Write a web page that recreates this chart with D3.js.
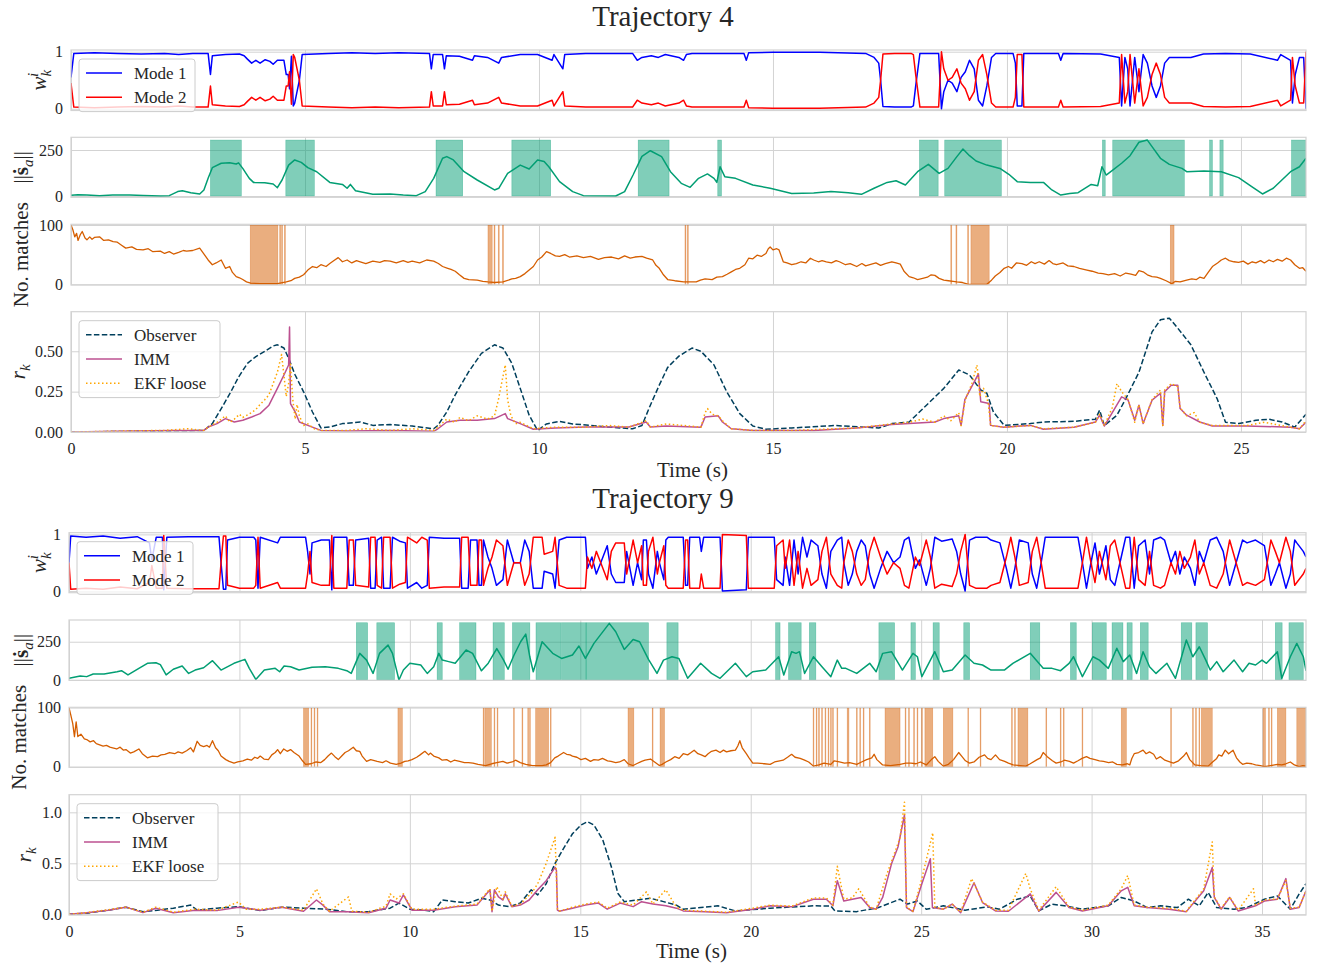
<!DOCTYPE html>
<html>
<head>
<meta charset="utf-8">
<script src="https://cdn.jsdelivr.net/npm/d3@7"></script>
<style>
  body { margin: 0; background: #fff; }
  text { font-family: "Liberation Serif", "DejaVu Serif", serif; fill: #262626; }
</style>
</head>
<body>
<svg id="fig" width="1318" height="971"></svg>
<script>
// ---------- data: [time (s), value] ----------

// Trajectory 4: mode weights [t, mode 1, mode 2]
var modes4 = [[0,.55,.45],[.06,.97,.03],[.5,.98,.02],[1,.97,.03],[1.5,.96,.04],[2,.97,.03],[2.3,.95,.05],[2.6,.97,.03],[2.93,.97,.03],[2.98,.6,.4],[3.02,.93,.07],[3.3,.95,.05],[3.6,.96,.04],[3.7,.93,.07],[3.77,.87,.13],[3.86,.8,.2],[3.95,.85,.15],[4.04,.8,.2],[4.15,.86,.14],[4.25,.83,.17],[4.32,.78,.22],[4.41,.85,.15],[4.55,.85,.15],[4.6,.6,.4],[4.64,.6,.4],[4.67,.35,.65],[4.71,.92,.08],[4.75,.05,.95],[4.78,.1,.9],[4.83,.3,.7],[4.88,.5,.5],[4.94,.95,.05],[5.5,.97,.03],[6,.98,.02],[6.5,.97,.03],[7,.98,.02],[7.66,.97,.03],[7.7,.7,.3],[7.74,.95,.05],[7.94,.95,.05],[7.98,.7,.3],[8.02,.93,.07],[8.3,.92,.08],[8.58,.85,.15],[8.62,.93,.07],[8.9,.9,.1],[9.14,.8,.2],[9.2,.9,.1],[9.6,.95,.05],[9.97,.95,.05],[10.28,.85,.15],[10.32,.95,.05],[10.51,.7,.3],[10.55,.95,.05],[11,.97,.03],[11.5,.97,.03],[12,.97,.03],[12.1,.85,.15],[12.2,.9,.1],[12.4,.93,.07],[12.55,.9,.1],[12.7,.95,.05],[12.99,.9,.1],[13.09,.85,.15],[13.15,.95,.05],[13.27,.97,.03],[14,.97,.03],[14.38,.97,.03],[14.43,.85,.15],[14.48,.98,.02],[15,.99,.01],[16,.99,.01],[16.98,.97,.03],[17.16,.9,.1],[17.26,.8,.2],[17.3,.5,.5],[17.35,.04,.96],[17.6,.03,.97],[17.95,.03,.97],[18,.05,.95],[18.05,.4,.6],[18.14,.97,.03],[18.54,.97,.03],[18.6,0,1],[18.65,.3,.7],[18.74,.5,.5],[18.83,.45,.55],[18.93,.3,.7],[19.02,.55,.45],[19.11,.65,.35],[19.2,.85,.15],[19.3,.7,.3],[19.39,.15,.85],[19.48,.05,.95],[19.57,.4,.6],[19.67,.9,.1],[19.76,.97,.03],[20.13,.97,.03],[20.18,.8,.2],[20.22,.05,.95],[20.32,.05,.95],[20.36,.97,.03],[21.1,.97,.03],[21.15,.85,.15],[21.2,.97,.03],[22,.96,.04],[22.4,.9,.1],[22.45,.05,.95],[22.52,.9,.1],[22.58,.7,.3],[22.63,.05,.95],[22.73,.9,.1],[22.82,.3,.7],[22.91,.95,.05],[23,.8,.2],[23.1,.4,.6],[23.19,.2,.8],[23.28,.4,.6],[23.37,.8,.2],[23.47,.9,.1],[23.93,.9,.1],[24.2,.96,.04],[24.67,.97,.03],[25.2,.96,.04],[25.78,.85,.15],[25.85,.95,.05],[26.06,.85,.15],[26.1,.1,.9],[26.16,.6,.4],[26.25,.9,.1],[26.34,.9,.1],[26.39,0,1]];

var sa4 = [[0,4],[0.15,7],[0.34,6],[0.61,1],[0.89,5],[1.26,5],[1.54,3],[1.91,0],[2.1,2],[2.28,24],[2.38,29],[2.56,18],[2.75,11],[2.84,33],[2.93,96],[3.02,154],[3.21,178],[3.39,181],[3.53,174],[3.58,180],[3.67,150],[3.81,96],[3.9,74],[4.14,72],[4.32,65],[4.41,45],[4.51,87],[4.65,168],[4.78,196],[4.92,183],[5.06,154],[5.25,132],[5.53,74],[5.8,63],[5.9,42],[5.97,63],[6.08,29],[6.45,9],[6.82,11],[7.1,5],[7.38,2],[7.57,24],[7.75,96],[7.94,205],[8.03,214],[8.17,196],[8.4,132],[8.68,87],[9.05,33],[9.14,42],[9.33,123],[9.6,168],[9.79,147],[9.97,196],[10.11,187],[10.21,159],[10.44,78],[10.72,24],[10.95,2],[11.64,0],[11.83,24],[12.01,114],[12.2,215],[12.38,246],[12.62,214],[12.81,132],[13.04,69],[13.23,47],[13.41,96],[13.6,120],[13.74,96],[13.8,74],[13.87,159],[13.97,105],[14.2,96],[14.57,60],[14.94,42],[15.4,14],[15.87,16],[16.24,24],[16.61,18],[16.89,9],[17.16,42],[17.44,74],[17.63,83],[17.83,60],[18.09,132],[18.32,172],[18.55,123],[18.74,150],[18.93,214],[19.06,255],[19.2,219],[19.34,190],[19.57,168],[19.85,150],[20.04,118],[20.22,78],[20.5,74],[20.78,74],[20.96,33],[21.15,5],[21.34,14],[21.52,18],[21.8,63],[21.94,56],[22.03,159],[22.12,114],[22.26,141],[22.45,178],[22.63,219],[22.82,292],[23.0,304],[23.1,268],[23.28,205],[23.47,172],[23.74,150],[23.84,132],[24.21,136],[24.58,132],[24.95,100],[25.23,51],[25.46,11],[25.69,42],[26.06,132],[26.25,159],[26.39,205]];
var saSpans4 = [[2.98,3.64],[4.59,5.2],[7.8,8.37],[9.42,10.25],[12.12,12.78],[13.82,13.9],[18.13,18.53],[18.67,19.88],[22.04,22.1],[22.26,23.79],[24.33,24.39],[24.55,24.62],[26.08,26.39]];
var saSpanTop4 = 304;

var matches4 = [[0,100],[0.04,92],[0.08,80],[0.12,86],[0.15,74],[0.2,84],[0.24,89],[0.3,78],[0.34,75],[0.4,80],[0.45,76],[0.5,79],[0.61,80],[0.7,74],[0.8,75],[0.9,72],[0.99,71],[1.08,66],[1.17,61],[1.3,63],[1.4,59],[1.54,58],[1.65,60],[1.75,55],[1.91,56],[2.0,52],[2.1,55],[2.19,51],[2.3,54],[2.4,57],[2.47,56],[2.6,57],[2.75,61],[2.85,50],[2.93,41],[3.02,33],[3.1,36],[3.21,41],[3.3,27],[3.39,30],[3.45,20],[3.53,13],[3.6,11],[3.67,8],[3.75,4],[3.84,2],[4.04,1],[4.41,1],[4.6,4],[4.7,6],[4.78,10],[4.88,12],[4.97,16],[5.06,24],[5.16,30],[5.25,28],[5.34,33],[5.45,30],[5.53,35],[5.62,40],[5.71,45],[5.8,38],[5.9,41],[6.0,36],[6.1,40],[6.18,38],[6.3,35],[6.45,39],[6.6,37],[6.7,40],[6.82,39],[6.95,36],[7.1,40],[7.2,37],[7.29,39],[7.45,36],[7.6,41],[7.75,39],[7.85,35],[7.94,30],[8.05,27],[8.12,25],[8.21,22],[8.3,16],[8.4,10],[8.5,8],[8.68,7],[8.8,5],[8.91,4],[9.05,3],[9.23,4],[9.42,9],[9.5,10],[9.6,13],[9.7,18],[9.79,24],[9.88,30],[9.97,41],[10.06,46],[10.16,55],[10.25,52],[10.35,48],[10.44,47],[10.55,50],[10.65,46],[10.81,48],[10.95,45],[11.1,47],[11.27,42],[11.4,45],[11.55,46],[11.7,43],[11.83,48],[11.95,44],[12.05,46],[12.2,47],[12.3,44],[12.43,41],[12.5,32],[12.57,27],[12.65,17],[12.75,8],[12.9,6],[13.09,4],[13.36,4],[13.45,7],[13.55,9],[13.7,8],[13.8,12],[13.92,13],[14.02,17],[14.11,21],[14.2,25],[14.29,27],[14.4,33],[14.48,44],[14.57,43],[14.66,49],[14.75,47],[14.85,52],[14.9,60],[14.94,63],[15.0,58],[15.08,60],[15.13,58],[15.22,38],[15.3,36],[15.4,33],[15.5,35],[15.6,38],[15.7,36],[15.8,44],[15.87,41],[15.97,38],[16.05,40],[16.14,38],[16.25,36],[16.35,40],[16.42,38],[16.55,33],[16.65,35],[16.79,30],[16.9,35],[16.98,31],[17.07,33],[17.2,36],[17.3,32],[17.4,35],[17.54,38],[17.63,36],[17.72,34],[17.8,22],[17.91,13],[18.0,11],[18.09,8],[18.2,10],[18.3,12],[18.38,16],[18.46,15],[18.55,10],[18.65,7],[18.75,6],[18.85,5],[18.93,4],[19.05,3],[19.18,0],[19.57,0],[19.67,7],[19.75,14],[19.85,20],[19.94,27],[20.03,30],[20.1,27],[20.2,36],[20.32,35],[20.42,32],[20.52,38],[20.6,35],[20.69,38],[20.8,34],[20.9,40],[20.98,35],[21.06,33],[21.2,36],[21.3,31],[21.43,30],[21.55,27],[21.71,24],[21.82,22],[21.95,19],[22.05,18],[22.17,16],[22.3,18],[22.42,14],[22.54,19],[22.65,17],[22.75,15],[22.82,23],[22.91,21],[23.0,16],[23.1,13],[23.2,12],[23.28,10],[23.4,6],[23.52,1],[23.6,5],[23.7,4],[23.84,7],[23.95,9],[24.05,8],[24.12,12],[24.21,10],[24.3,20],[24.39,30],[24.5,36],[24.58,41],[24.67,44],[24.75,40],[24.85,38],[24.95,37],[25.05,39],[25.15,34],[25.24,38],[25.32,36],[25.42,40],[25.5,36],[25.6,41],[25.69,38],[25.78,42],[25.88,39],[25.97,44],[26.06,41],[26.15,33],[26.25,27],[26.32,28],[26.39,22]];
var matchSpans4 = [[3.83,4.42],[4.46,4.48],[4.5,4.52],[4.56,4.58],[8.91,9.0],[9.04,9.06],[9.13,9.15],[9.22,9.24],[13.12,13.14],[13.17,13.19],[18.8,18.82],[18.91,18.93],[19.16,19.18],[19.23,19.62],[23.49,23.57]];
var matchSpanTop4 = 100;

var observer4 = [[0,0],[1.26,.004],[2.5,.008],[2.84,.01],[3.02,.052],[3.21,.145],[3.4,.24],[3.58,.34],[3.77,.425],[3.95,.467],[4.14,.5],[4.32,.533],[4.41,.54],[4.55,.52],[4.65,.456],[4.79,.353],[4.97,.249],[5.16,.124],[5.34,.025],[5.53,.031],[5.8,.052],[6.18,.062],[6.45,.041],[6.82,.046],[7.29,.037],[7.75,.02],[7.84,.041],[8.03,.124],[8.21,.23],[8.49,.37],[8.77,.487],[9.05,.54],[9.23,.52],[9.42,.425],[9.6,.27],[9.79,.104],[9.97,.01],[10.16,.05],[10.44,.066],[10.72,.05],[11.09,.041],[11.46,.031],[12.0,.02],[12.2,.04],[12.38,.166],[12.57,.29],[12.75,.4],[12.99,.47],[13.27,.52],[13.46,.5],[13.74,.415],[14.01,.25],[14.29,.114],[14.57,.037],[14.85,.017],[15.4,.025],[16.33,.04],[17.26,.025],[17.54,.052],[17.91,.062],[18.28,.166],[18.65,.27],[18.97,.384],[19.2,.353],[19.44,.26],[19.57,.24],[19.71,.124],[19.94,.041],[20.5,.052],[20.78,.062],[21.43,.066],[21.89,.079],[21.98,.135],[22.08,.04],[22.35,.104],[22.54,.207],[22.82,.37],[23.1,.62],[23.28,.695],[23.47,.705],[23.65,.643],[23.93,.54],[24.21,.37],[24.49,.207],[24.67,.06],[24.95,.052],[25.32,.073],[25.6,.079],[25.88,.062],[26.15,.03],[26.39,.11]];
var imm4 = [[0,0],[1,.004],[2.19,.01],[2.84,.01],[2.93,.03],[3.12,.052],[3.3,.083],[3.49,.062],[3.67,.073],[3.86,.093],[4.04,.114],[4.23,.166],[4.41,.27],[4.55,.353],[4.65,.415],[4.67,.65],[4.69,.176],[4.79,.124],[4.88,.062],[5.06,.041],[5.34,.01],[5.9,.006],[6.82,.01],[7.75,.004],[7.84,.02],[8.03,.062],[8.31,.073],[8.68,.073],[9.05,.083],[9.28,.114],[9.33,.083],[9.6,.052],[9.88,.017],[10.35,.025],[11.0,.031],[11.92,.031],[12.29,.062],[12.38,.031],[12.72,.037],[13.46,.03],[13.55,.093],[13.83,.1],[13.92,.062],[14.11,.02],[14.57,.01],[15.87,.01],[16.79,.025],[17.54,.046],[17.91,.052],[18.46,.062],[18.65,.083],[18.97,.1],[19.02,.041],[19.1,.2],[19.39,.36],[19.44,.187],[19.62,.176],[19.65,.041],[19.94,.03],[20.5,.041],[20.78,.017],[21.43,.03],[21.89,.062],[21.98,.104],[22.08,.037],[22.45,.218],[22.59,.197],[22.73,.073],[22.82,.166],[22.91,.052],[23.1,.197],[23.28,.24],[23.33,.04],[23.37,.25],[23.51,.29],[23.65,.29],[23.7,.145],[23.84,.104],[24.12,.062],[24.39,.037],[25.13,.037],[26.06,.03],[26.25,.02],[26.39,.06]];
var ekf4 = [[0,0],[1,.005],[2,.01],[2.5,.02],[2.84,.01],[2.93,.03],[3.12,.06],[3.3,.1],[3.4,.06],[3.49,.08],[3.6,.11],[3.67,.09],[3.86,.12],[3.95,.14],[4.04,.17],[4.14,.2],[4.23,.23],[4.32,.3],[4.41,.37],[4.5,.48],[4.55,.35],[4.6,.22],[4.65,.3],[4.69,.42],[4.74,.2],[4.79,.08],[4.83,.17],[4.88,.1],[4.97,.04],[5.06,.05],[5.2,.02],[5.34,.01],[5.9,.01],[6.3,.02],[6.82,.01],[7.3,.02],[7.75,.01],[7.84,.03],[8.03,.08],[8.2,.06],[8.31,.09],[8.5,.07],[8.68,.1],[8.9,.08],[9.05,.1],[9.14,.21],[9.2,.3],[9.28,.415],[9.33,.2],[9.4,.1],[9.5,.05],[9.6,.06],[9.88,.02],[10.35,.03],[11,.03],[11.5,.04],[11.92,.03],[12.29,.07],[12.38,.03],[12.72,.05],[13.1,.04],[13.46,.03],[13.55,.12],[13.6,.145],[13.7,.11],[13.83,.1],[13.92,.07],[14.11,.02],[14.57,.01],[15.5,.01],[16.3,.02],[16.79,.025],[17.54,.05],[17.91,.06],[18.2,.08],[18.46,.06],[18.65,.1],[18.8,.07],[18.97,.12],[19.02,.04],[19.11,.2],[19.25,.3],[19.36,.415],[19.42,.22],[19.5,.27],[19.6,.18],[19.65,.04],[19.94,.03],[20.5,.04],[20.78,.02],[21.43,.03],[21.89,.06],[21.98,.11],[22.08,.04],[22.25,.15],[22.35,.3],[22.45,.25],[22.59,.2],[22.73,.06],[22.82,.17],[22.91,.05],[23.1,.2],[23.28,.26],[23.33,.04],[23.37,.26],[23.51,.3],[23.65,.28],[23.7,.15],[23.84,.1],[24.0,.12],[24.12,.06],[24.39,.04],[25.13,.04],[25.5,.06],[26.06,.03],[26.25,.02],[26.39,.07]];

// Trajectory 9
var modes9 = [[0,.5,.5],[0.05,.97,.03],[0.5,.95,.05],[1.0,.97,.03],[1.5,.93,.07],[2.0,.96,.04],[2.36,.85,.15],[2.43,.55,.45],[2.56,.95,.05],[2.74,.95,.05],[2.78,.02,.98],[2.87,.95,.05],[3.5,.96,.04],[4.4,.96,.04],[4.46,.5,.5],[4.53,.03,.97],[4.6,.03,.97],[4.65,.9,.1],[5.0,.95,.05],[5.42,.95,.05],[5.48,.9,.1],[5.545,.05,.95],[5.61,.95,.05],[6.12,.85,.15],[6.2,.95,.05],[6.94,.95,.05],[7.0,.7,.3],[7.07,.3,.7],[7.13,.85,.15],[7.4,.9,.1],[7.64,.9,.1],[7.71,.02,.98],[7.77,.95,.05],[8.15,.95,.05],[8.22,.1,.9],[8.34,.1,.9],[8.41,.9,.1],[8.79,.93,.07],[8.85,.05,.95],[8.98,.05,.95],[9.04,.9,.1],[9.17,.95,.05],[9.23,.05,.95],[9.42,.05,.95],[9.49,.95,.05],[9.7,.88,.12],[9.87,.85,.15],[9.93,.05,.95],[10.2,.15,.85],[10.35,.05,.95],[10.51,.1,.9],[10.57,.95,.05],[11.0,.93,.07],[11.46,.93,.07],[11.52,.05,.95],[11.71,.05,.95],[11.78,.9,.1],[11.97,.9,.1],[12.03,.1,.9],[12.1,.1,.9],[12.16,.9,.1],[12.29,.6,.4],[12.41,.4,.6],[12.54,.1,.9],[12.73,.2,.8],[12.86,.9,.1],[13.05,.5,.5],[13.24,.5,.5],[13.37,.9,.1],[13.5,.7,.3],[13.62,.05,.95],[13.88,.05,.95],[13.94,.35,.65],[14.19,.3,.7],[14.26,.05,.95],[14.38,.9,.1],[14.6,.95,.05],[15.15,.95,.05],[15.21,.4,.6],[15.34,.6,.4],[15.47,.3,.7],[15.6,.5,.5],[15.79,.8,.2],[15.91,.3,.7],[16.04,.15,.85],[16.29,.15,.85],[16.36,.7,.3],[16.55,.1,.9],[16.68,.5,.5],[16.8,.2,.8],[16.85,.9,.1],[16.94,.9,.1],[17.0,.3,.7],[17.13,.05,.95],[17.26,.7,.3],[17.32,.5,.5],[17.45,.2,.8],[17.51,.9,.1],[17.58,.95,.05],[18.02,.95,.05],[18.09,.1,.9],[18.15,.1,.9],[18.21,.95,.05],[18.5,.95,.05],[18.55,.7,.3],[18.62,.95,.05],[19.1,.95,.05],[19.17,0,1],[19.87,.02,.98],[19.93,.95,.05],[20.69,.95,.05],[20.76,.2,.8],[20.95,.1,.9],[21.01,.6,.4],[21.14,.1,.9],[21.27,.9,.1],[21.39,.3,.7],[21.52,.95,.05],[21.65,.6,.4],[21.77,.9,.1],[21.97,.8,.2],[22.09,.3,.7],[22.22,.05,.95],[22.35,.7,.3],[22.54,.9,.1],[22.67,.95,.05],[22.73,.5,.5],[22.86,.1,.9],[22.98,.3,.7],[23.11,.7,.3],[23.24,.9,.1],[23.36,.8,.2],[23.49,.3,.7],[23.62,.05,.95],[23.81,.4,.6],[24.0,.7,.3],[24.19,.5,.5],[24.38,.6,.4],[24.51,.9,.1],[24.64,.95,.05],[24.83,.4,.6],[24.95,.55,.45],[25.15,.1,.9],[25.27,.4,.6],[25.4,.95,.05],[25.6,.88,.12],[25.91,.92,.08],[26.04,.7,.3],[26.16,.3,.7],[26.29,0,1],[26.42,.9,.1],[26.6,.95,.05],[26.93,.95,.05],[27.05,.9,.1],[27.31,.85,.15],[27.5,.4,.6],[27.63,.05,.95],[27.75,.4,.6],[27.88,.9,.1],[28.14,.85,.15],[28.26,.3,.7],[28.39,.05,.95],[28.52,.5,.5],[28.64,.95,.05],[29.6,.95,.05],[29.73,.5,.5],[29.85,.05,.95],[29.98,.5,.5],[30.1,.85,.15],[30.23,.3,.7],[30.42,.8,.2],[30.55,.2,.8],[30.68,.1,.9],[30.87,.6,.4],[31.0,.95,.05],[31.12,.95,.05],[31.25,.05,.95],[31.38,.8,.2],[31.57,.9,.1],[31.7,.3,.7],[31.82,.9,.1],[32.02,.95,.05],[32.14,.9,.1],[32.33,.5,.5],[32.46,.7,.3],[32.59,.3,.7],[32.72,.6,.4],[32.9,.4,.6],[33.03,.1,.9],[33.16,.7,.3],[33.29,.5,.5],[33.48,.9,.1],[33.67,.95,.05],[33.86,.7,.3],[34.05,.1,.9],[34.24,.5,.5],[34.43,.9,.1],[34.56,.85,.15],[34.81,.9,.1],[35.07,.8,.2],[35.26,.1,.9],[35.39,.3,.7],[35.51,.5,.5],[35.7,.05,.95],[35.83,.3,.7],[35.96,.9,.1],[36.02,.85,.15],[36.21,.7,.3],[36.29,.6,.4]];

var sa9 = [[0,11],[0.33,26],[0.52,22],[0.71,39],[1.03,39],[1.41,54],[1.54,61],[1.73,33],[2.05,76],[2.3,109],[2.55,113],[2.68,100],[2.85,33],[3.06,70],[3.32,91],[3.51,43],[3.7,65],[3.95,80],[4.21,126],[4.46,65],[4.84,109],[5.16,135],[5.29,76],[5.48,4],[5.73,65],[6.05,76],[6.18,54],[6.31,91],[6.5,87],[6.75,65],[7.13,83],[7.52,87],[7.9,76],[8.15,61],[8.28,43],[8.53,174],[8.73,130],[8.92,43],[9.11,174],[9.36,228],[9.49,174],[9.68,0],[9.81,65],[10.0,109],[10.32,98],[10.51,43],[10.7,87],[10.85,174],[10.95,130],[11.14,120],[11.33,109],[11.65,196],[11.84,174],[12.1,60],[12.3,110],[12.55,205],[12.75,130],[12.88,70],[13.05,160],[13.25,250],[13.4,300],[13.52,150],[13.62,54],[13.88,250],[14.19,174],[14.45,141],[14.77,163],[14.96,222],[15.15,141],[15.4,239],[15.85,370],[16.04,315],[16.29,200],[16.55,265],[16.74,250],[17.0,135],[17.25,43],[17.44,130],[17.69,152],[17.89,141],[18.15,11],[18.53,109],[18.85,43],[19.1,11],[19.55,109],[19.87,22],[20.06,54],[20.44,65],[20.82,152],[20.97,33],[21.2,185],[21.33,174],[21.43,185],[21.58,43],[21.84,152],[22.09,87],[22.35,22],[22.54,130],[22.67,76],[22.79,76],[23.11,43],[23.49,109],[23.68,54],[23.87,174],[24.13,185],[24.45,65],[24.76,174],[24.89,152],[25.02,22],[25.4,185],[25.65,54],[25.91,65],[26.29,163],[26.55,109],[26.8,98],[27.05,65],[27.44,65],[27.69,109],[28.2,174],[28.58,76],[28.84,76],[29.09,61],[29.34,109],[29.47,152],[29.73,22],[30.04,152],[30.23,130],[30.49,76],[30.74,207],[30.93,120],[31.12,163],[31.32,43],[31.51,185],[31.7,87],[31.89,43],[32.21,109],[32.46,11],[32.78,261],[32.97,152],[33.16,217],[33.35,130],[33.48,65],[33.67,120],[33.86,54],[34.18,130],[34.43,54],[34.62,109],[34.81,98],[35.0,130],[35.13,109],[35.45,185],[35.58,11],[35.83,152],[36.02,239],[36.21,152],[36.29,60]];
var saSpans9 = [[8.43,8.76],[9.03,9.55],[10.8,10.95],[11.46,11.94],[12.44,12.77],[13.01,13.52],[13.7,14.43],[14.45,15.17],[15.17,17.0],[17.54,17.87],[20.73,20.86],[21.11,21.48],[21.72,21.91],[23.76,24.22],[24.7,24.83],[25.35,25.53],[26.25,26.42],[28.2,28.48],[29.38,29.55],[30.02,30.43],[30.6,30.92],[31.04,31.19],[31.43,31.66],[32.63,32.94],[33.06,33.4],[35.39,35.59],[35.79,36.21]];
var saSpanTop9 = 374;

var matches9 = [[0,100],[0.05,88],[0.11,73],[0.16,51],[0.21,76],[0.26,51],[0.35,55],[0.45,47],[0.52,46],[0.62,42],[0.72,44],[0.8,39],[0.9,37],[1.0,35],[1.1,36],[1.2,33],[1.28,32],[1.4,30],[1.5,33],[1.6,28],[1.67,29],[1.8,23],[1.9,25],[2.05,30],[2.15,22],[2.3,15],[2.45,18],[2.6,17],[2.7,20],[2.81,21],[2.95,24],[3.1,22],[3.2,25],[3.32,23],[3.45,27],[3.57,32],[3.65,25],[3.76,43],[3.85,36],[3.95,34],[4.05,36],[4.12,33],[4.21,44],[4.3,32],[4.38,27],[4.46,18],[4.6,12],[4.7,9],[4.84,6],[4.95,8],[5.1,10],[5.23,13],[5.35,11],[5.45,16],[5.53,14],[5.61,18],[5.72,13],[5.85,12],[5.95,20],[6.05,24],[6.12,29],[6.2,22],[6.3,30],[6.4,26],[6.5,29],[6.6,24],[6.75,18],[6.85,10],[6.94,4],[7.1,5],[7.25,8],[7.39,7],[7.5,12],[7.6,18],[7.7,23],[7.8,17],[7.9,12],[8.0,18],[8.1,24],[8.2,27],[8.34,33],[8.43,27],[8.53,26],[8.6,18],[8.73,9],[8.85,12],[9.04,9],[9.2,7],[9.3,10],[9.43,6],[9.6,4],[9.74,6],[9.85,9],[9.95,10],[10.06,12],[10.2,16],[10.3,20],[10.44,26],[10.55,20],[10.6,23],[10.7,18],[10.85,15],[10.95,11],[11.08,12],[11.2,8],[11.3,11],[11.46,9],[11.6,7],[11.72,7],[11.85,6],[12.0,4],[12.22,2],[12.4,5],[12.55,7],[12.73,9],[12.85,6],[13.0,8],[13.1,11],[13.24,7],[13.4,4],[13.6,2],[13.88,2],[14.0,3],[14.13,7],[14.25,15],[14.35,18],[14.51,24],[14.6,21],[14.7,20],[14.77,18],[14.9,16],[15.02,12],[15.15,14],[15.3,9],[15.4,12],[15.53,11],[15.65,14],[15.8,10],[15.9,9],[16.04,7],[16.15,8],[16.29,12],[16.4,5],[16.55,2],[16.65,5],[16.8,9],[16.9,11],[17.06,13],[17.2,7],[17.32,2],[17.4,4],[17.51,8],[17.65,12],[17.77,17],[17.9,14],[18.02,22],[18.15,20],[18.25,24],[18.34,28],[18.45,22],[18.55,20],[18.66,17],[18.75,22],[18.85,26],[18.98,28],[19.1,24],[19.2,28],[19.29,25],[19.42,27],[19.55,28],[19.62,35],[19.68,44],[19.75,32],[19.87,22],[19.95,15],[20.06,6],[20.2,6],[20.4,5],[20.57,4],[20.7,8],[20.85,10],[20.95,11],[21.08,16],[21.2,21],[21.3,16],[21.45,14],[21.58,11],[21.7,8],[21.84,1],[22.0,3],[22.15,6],[22.35,4],[22.45,10],[22.6,8],[22.75,6],[22.9,7],[23.11,4],[23.25,8],[23.4,12],[23.55,15],[23.62,21],[23.7,12],[23.87,3],[24.1,2],[24.38,4],[24.55,6],[24.7,6],[24.85,5],[24.98,8],[25.15,3],[25.3,12],[25.4,17],[25.5,9],[25.65,1],[25.8,4],[25.95,12],[26.1,24],[26.2,17],[26.3,10],[26.42,6],[26.55,8],[26.7,16],[26.86,20],[26.95,14],[27.05,12],[27.18,20],[27.3,12],[27.45,9],[27.56,6],[27.7,3],[27.9,2],[28.07,1],[28.2,5],[28.4,12],[28.5,15],[28.58,24],[28.7,17],[28.85,10],[28.96,6],[29.1,8],[29.2,11],[29.35,9],[29.47,6],[29.6,10],[29.72,14],[29.85,17],[29.95,14],[30.1,12],[30.23,10],[30.35,9],[30.5,7],[30.62,8],[30.74,4],[30.9,3],[31.05,5],[31.12,3],[31.18,14],[31.25,22],[31.38,24],[31.51,28],[31.6,22],[31.7,25],[31.82,21],[31.9,13],[32.02,17],[32.15,11],[32.25,9],[32.4,6],[32.55,10],[32.7,18],[32.78,24],[32.88,12],[33.03,3],[33.2,2],[33.42,1],[33.55,8],[33.67,14],[33.73,20],[33.82,18],[33.92,28],[34.02,22],[34.15,28],[34.25,15],[34.35,8],[34.43,4],[34.55,6],[34.7,5],[34.81,3],[34.95,2],[35.07,0],[35.25,2],[35.45,4],[35.58,3],[35.7,5],[35.83,8],[35.95,3],[36.09,0],[36.2,2],[36.29,1]];
var matchSpans9 = [[6.88,7.03],[7.1,7.12],[7.19,7.21],[7.28,7.3],[9.65,9.78],[12.15,12.17],[12.2,12.39],[12.47,12.49],[12.56,12.58],[13.04,13.06],[13.29,13.31],[13.46,13.48],[13.51,13.53],[13.69,14.07],[14.12,14.14],[16.4,16.57],[17.11,17.13],[17.34,17.47],[21.83,21.85],[21.92,21.94],[21.99,22.01],[22.08,22.1],[22.18,22.2],[22.27,22.29],[22.34,22.36],[22.4,22.42],[22.53,22.55],[22.83,22.88],[23.1,23.12],[23.2,23.22],[23.3,23.32],[23.48,23.5],[23.94,24.38],[24.53,24.55],[24.63,24.65],[24.78,24.8],[24.88,24.9],[25.01,25.03],[25.11,25.34],[25.65,25.93],[26.37,26.39],[26.73,26.75],[27.65,27.67],[27.74,27.76],[27.84,28.13],[28.66,28.68],[29.08,29.1],[29.17,29.19],[29.72,29.74],[30.87,31.02],[32.32,32.34],[32.96,32.98],[33.05,33.07],[33.15,33.17],[33.22,33.54],[35.03,35.1],[35.19,35.21],[35.27,35.29],[35.45,35.7],[36.02,36.29]];
var matchSpanTop9 = 100;

var observer9 = [[0,0],[0.5,.01],[1.15,.04],[1.67,.07],[2.17,.026],[2.6,.04],[3.06,.06],[3.57,.09],[3.76,.04],[4.34,.06],[4.97,.075],[5.61,.036],[6.24,.07],[6.88,.06],[7.52,.05],[8.15,.026],[8.79,.026],[9.42,.06],[9.68,.11],[10.0,.05],[10.44,.04],[10.7,.026],[10.95,.14],[11.33,.124],[11.71,.11],[12.1,.157],[12.35,.14],[12.6,.09],[12.92,.075],[13.24,.11],[13.56,.24],[13.75,.19],[14.0,.3],[14.26,.5],[14.51,.647],[14.77,.79],[15.02,.876],[15.21,.908],[15.4,.876],[15.66,.73],[15.91,.467],[16.1,.206],[16.29,.124],[16.68,.14],[17.06,.157],[17.44,.124],[17.82,.09],[18.02,.05],[19.04,.083],[19.55,.033],[20.57,.06],[21.84,.083],[22.35,.08],[22.47,.033],[23.11,.026],[23.75,.066],[24.38,.148],[24.6,.1],[24.89,.13],[25.15,.05],[25.65,.083],[26.29,.04],[26.93,.073],[27.3,.05],[27.82,.148],[28.2,.18],[28.45,.033],[28.84,.1],[29.2,.083],[29.73,.05],[30.11,.066],[30.49,.083],[30.87,.165],[31.25,.13],[31.63,.066],[32.02,.083],[32.52,.066],[32.84,.148],[33.16,.083],[33.42,.215],[33.67,.066],[34.18,.05],[34.56,.066],[35.07,.148],[35.45,.18],[35.83,.05],[36.09,.2],[36.29,.3]];
var imm9 = [[0,0],[0.52,.016],[1.15,.04],[1.67,.07],[2.17,.016],[2.55,.06],[3.06,.016],[3.7,.04],[4.34,.036],[4.97,.07],[5.61,.04],[6.24,.07],[6.88,.03],[7.26,.14],[7.45,.09],[7.64,.026],[8.15,.026],[8.79,.016],[9.3,.06],[9.42,.14],[9.68,.11],[9.81,.19],[10.06,.04],[10.7,.04],[11.33,.075],[11.97,.09],[12.35,.24],[12.41,.026],[12.48,.24],[12.6,.17],[12.73,.14],[12.8,.2],[12.99,.075],[13.24,.09],[13.5,.14],[13.75,.24],[14.0,.33],[14.26,.46],[14.3,.43],[14.33,.04],[14.38,.03],[14.77,.06],[15.15,.09],[15.53,.11],[15.79,.05],[16.17,.11],[16.55,.075],[16.8,.124],[17.13,.1],[17.51,.083],[17.82,.06],[18.02,.033],[18.66,.026],[19.29,.016],[20.06,.05],[20.57,.083],[21.2,.073],[21.84,.148],[22.22,.148],[22.41,.083],[22.54,.33],[22.73,.13],[22.98,.148],[23.24,.165],[23.49,.066],[23.68,.05],[23.87,.165],[24.13,.495],[24.32,.66],[24.51,.974],[24.57,.066],[24.76,.026],[25.02,.3],[25.27,.545],[25.33,.066],[25.65,.05],[25.91,.1],[26.16,.016],[26.55,.31],[26.8,.115],[27.18,.033],[27.56,.03],[28.2,.2],[28.45,.03],[28.96,.215],[29.34,.066],[29.73,.033],[30.49,.083],[30.87,.23],[31.06,.264],[31.25,.083],[31.63,.066],[32.27,.05],[32.78,.026],[33.29,.23],[33.54,.46],[33.6,.165],[33.8,.05],[34.05,.165],[34.3,.033],[34.81,.083],[35.07,.13],[35.45,.148],[35.7,.35],[35.83,.05],[36.09,.066],[36.29,.23]];
var ekf9 = [[0,0],[0.52,.016],[1.15,.045],[1.67,.07],[2.17,.02],[2.55,.07],[3.06,.02],[3.7,.05],[4.34,.04],[4.97,.12],[5.2,.05],[5.61,.05],[6.24,.07],[6.88,.04],[7.26,.25],[7.45,.1],[7.64,.03],[8.2,.17],[8.3,.03],[8.79,.02],[9.3,.08],[9.42,.2],[9.6,.15],[9.81,.2],[10.06,.05],[10.7,.05],[11.33,.08],[11.97,.1],[12.35,.25],[12.41,.03],[12.55,.27],[12.73,.15],[12.8,.22],[12.99,.08],[13.24,.1],[13.6,.22],[13.75,.3],[14.0,.5],[14.26,.755],[14.33,.05],[14.38,.03],[14.77,.07],[15.15,.1],[15.53,.12],[15.79,.06],[16.17,.12],[16.55,.09],[16.94,.22],[17.13,.1],[17.51,.24],[17.82,.07],[18.02,.04],[18.66,.03],[19.29,.02],[20.06,.06],[20.57,.09],[21.2,.08],[21.84,.16],[22.22,.16],[22.41,.09],[22.54,.47],[22.73,.15],[22.98,.16],[23.17,.25],[23.49,.07],[23.68,.05],[24.0,.4],[24.38,.75],[24.51,1.1],[24.57,.07],[24.76,.03],[25.02,.35],[25.34,.8],[25.4,.07],[25.65,.05],[25.91,.1],[26.16,.02],[26.48,.35],[26.8,.12],[27.18,.04],[27.56,.04],[28.07,.4],[28.2,.25],[28.45,.04],[28.96,.27],[29.34,.07],[29.73,.04],[30.49,.09],[30.87,.25],[31.06,.38],[31.25,.09],[31.63,.07],[32.27,.06],[32.78,.03],[33.29,.25],[33.54,.71],[33.6,.17],[33.8,.06],[34.05,.17],[34.3,.04],[34.75,.25],[34.81,.09],[35.07,.14],[35.45,.15],[35.7,.33],[35.83,.06],[36.09,.07],[36.29,.23]];

var timeTicks4 = [0, 5, 10, 15, 20, 25];
var timeTicks9 = [0, 5, 10, 15, 20, 25, 30, 35];

// ---------- drawing ----------
var svg = d3.select("#fig");
var gridColor = "#d3d3d3";
var clipId = 0;

function drawPanel(p) {
  var x = p.x, x0 = x.range()[0], x1 = x.range()[1];
  var y = d3.scaleLinear().domain(p.yDomain).range([p.bottom, p.top]);
  var g = svg.append("g");

  var gx = g.append("g")
    .attr("transform", "translate(0," + p.bottom + ")")
    .call(d3.axisBottom(x).tickValues(p.xTicks).tickSize(-(p.bottom - p.top)).tickPadding(11)
      .tickFormat(p.xLabels ? d3.format("d") : ""));
  gx.select(".domain").remove();
  gx.selectAll("line").attr("stroke", gridColor).attr("stroke-width", 1);
  gx.selectAll("text").attr("font-size", 16).attr("font-family", null).style("fill", "#262626");

  var gy = g.append("g")
    .attr("transform", "translate(" + x0 + ",0)")
    .call(d3.axisLeft(y).tickValues(p.yTicks).tickSize(-(x1 - x0)).tickPadding(p.yPad || 8)
      .tickFormat(p.yFormat));
  gy.select(".domain").remove();
  gy.selectAll("line").attr("stroke", gridColor).attr("stroke-width", 1);
  gy.selectAll("text").attr("font-size", 16).style("fill", "#262626");
  gx.attr("font-family", null); gy.attr("font-family", null);

  clipId += 1;
  svg.append("clipPath").attr("id", "clip" + clipId)
    .append("rect").attr("x", x0).attr("y", p.top).attr("width", x1 - x0).attr("height", p.bottom - p.top);
  var body = g.append("g").attr("clip-path", "url(#clip" + clipId + ")");

  (p.spans || []).forEach(function(s) {
    body.append("g").selectAll("rect").data(s.data).join("rect")
      .attr("x", function(d) { return x(d[0]); })
      .attr("width", function(d) { return Math.max(0.8, x(d[1]) - x(d[0])); })
      .attr("y", y(s.top))
      .attr("height", y(0) - y(s.top))
      .attr("fill", s.color).attr("fill-opacity", 0.5)
      .attr("stroke", s.color).attr("stroke-opacity", 0.45).attr("stroke-width", 0.6);
  });

  p.series.forEach(function(s) {
    var line = d3.line()
      .x(function(d) { return x(d[0]); })
      .y(function(d) { return y(s.acc ? s.acc(d) : d[1]); });
    body.append("path").datum(s.data)
      .attr("d", line)
      .attr("fill", "none")
      .attr("stroke", s.color)
      .attr("stroke-width", s.width || 1.5)
      .attr("stroke-dasharray", s.dash || null)
      .attr("stroke-linejoin", "round");
  });

  g.append("rect").attr("x", x0).attr("y", p.top).attr("width", x1 - x0).attr("height", p.bottom - p.top)
    .attr("fill", "none").attr("stroke", gridColor).attr("stroke-width", 1.2);

  if (p.legend) {
    var L = p.legend;
    var lg = g.append("g").attr("transform", "translate(" + (x0 + 8) + "," + (p.top + 9) + ")");
    lg.append("rect").attr("width", L.width).attr("height", 24.3 * L.items.length + 4)
      .attr("rx", 3).attr("fill", "#fff").attr("fill-opacity", 0.8)
      .attr("stroke", "#cccccc").attr("stroke-width", 1);
    L.items.forEach(function(it, i) {
      var yy = 14 + i * 24.3;
      lg.append("line").attr("x1", 7).attr("x2", 43).attr("y1", yy).attr("y2", yy)
        .attr("stroke", it.color).attr("stroke-width", 1.5).attr("stroke-dasharray", it.dash || null);
      lg.append("text").attr("x", 55).attr("y", yy + 6).attr("font-size", 17).text(it.label);
    });
  }
  return y;
}

function yLabel(x, y, build) {
  var t = svg.append("text").attr("transform", "translate(" + x + "," + y + ") rotate(-90)")
    .attr("text-anchor", "middle").attr("font-size", 21);
  build(t);
}
function wLabel(t) {
  t.append("tspan").attr("font-style", "italic").text("w");
  t.append("tspan").attr("font-style", "italic").attr("font-size", 15).attr("dy", 5).text("k");
  t.append("tspan").attr("font-style", "italic").attr("font-size", 15).attr("dx", -7).attr("dy", -13).text("i");
}
function sLabel(t) {
  t.append("tspan").text("||");
  t.append("tspan").attr("font-weight", "bold").text("\u1E61");
  t.append("tspan").attr("font-style", "italic").attr("font-size", 15).attr("dy", 5).text("a");
  t.append("tspan").attr("dy", -5).text("||");
}
function rLabel(t) {
  t.append("tspan").attr("font-style", "italic").text("r");
  t.append("tspan").attr("font-style", "italic").attr("font-size", 15).attr("dy", 5).text("k");
}
function nLabel(t) { t.text("No. matches"); }

var f2 = d3.format(".2f"), f1 = d3.format(".1f"), fd = d3.format("d");
var green = "#029e73", orange = "#d55e00";
var cObs = "#003f5c", cImm = "#bc5090", cEkf = "#ffa600";

function drawTrajectory(t) {
  var x = d3.scaleLinear().domain([0, t.tEnd]).range([t.x0, 1306]);
  var L = t.layout;

  svg.append("text").attr("x", 663).attr("y", t.titleY).attr("text-anchor", "middle")
    .attr("font-size", 29).text(t.title);

  drawPanel({ x: x, xTicks: t.ticks, top: L[0][0], bottom: L[0][1], yDomain: [-0.03, 1.03],
    yTicks: [0, 1], yFormat: fd, yPad: 8,
    series: [
      { data: t.modes, acc: function(d) { return d[1]; }, color: "#0000ff" },
      { data: t.modes, acc: function(d) { return d[2]; }, color: "#ff0000" }
    ],
    legend: { width: 116, items: [{ label: "Mode 1", color: "#0000ff" }, { label: "Mode 2", color: "#ff0000" }] }
  });

  drawPanel({ x: x, xTicks: t.ticks, top: L[1][0], bottom: L[1][1], yDomain: t.saDomain,
    yTicks: [0, 250], yFormat: fd, yPad: 8,
    spans: [{ data: t.saSpans, top: t.saTop, color: green }],
    series: [{ data: t.sa, color: green }]
  });

  drawPanel({ x: x, xTicks: t.ticks, top: L[2][0], bottom: L[2][1], yDomain: t.mDomain,
    yTicks: [0, 100], yFormat: fd, yPad: 8,
    spans: [{ data: t.mSpans, top: t.mTop, color: orange }],
    series: [{ data: t.matches, color: orange, width: 1.3 }]
  });

  drawPanel({ x: x, xTicks: t.ticks, xLabels: true, top: L[3][0], bottom: L[3][1], yDomain: t.rDomain,
    yTicks: t.rTicks, yFormat: t.rFormat, yPad: t.rPad,
    series: [
      { data: t.observer, color: cObs, dash: "5.5,2.4" },
      { data: t.imm, color: cImm },
      { data: t.ekf, color: cEkf, dash: "1.5,2.5" }
    ],
    legend: { width: 141, items: [
      { label: "Observer", color: cObs, dash: "5.5,2.4" },
      { label: "IMM", color: cImm },
      { label: "EKF loose", color: cEkf, dash: "1.5,2.5" }] }
  });

  yLabel(t.lab[0], (L[0][0] + L[0][1]) / 2, wLabel);
  yLabel(t.lab[1], (L[1][0] + L[1][1]) / 2, sLabel);
  yLabel(t.lab[2], (L[2][0] + L[2][1]) / 2, nLabel);
  yLabel(t.lab[3], (L[3][0] + L[3][1]) / 2, rLabel);

  svg.append("text").attr("x", (t.x0 + 1306) / 2 + 4).attr("y", t.xLabelY).attr("text-anchor", "middle")
    .attr("font-size", 21).text("Time (s)");
}

drawTrajectory({
  title: "Trajectory 4", titleY: 26, tEnd: 26.39, x0: 71, ticks: timeTicks4,
  layout: [[50, 110.5], [137.3, 197.3], [224.3, 285], [311.7, 432]],
  modes: modes4, sa: sa4, saSpans: saSpans4, saTop: saSpanTop4, saDomain: [-7, 319],
  matches: matches4, mSpans: matchSpans4, mTop: matchSpanTop4, mDomain: [-1.2, 101.2],
  observer: observer4, imm: imm4, ekf: ekf4,
  rDomain: [0, 0.745], rTicks: [0, 0.25, 0.5], rFormat: f2, rPad: 8,
  lab: [46, 28, 28, 25], xLabelY: 477
});

drawTrajectory({
  title: "Trajectory 9", titleY: 508, tEnd: 36.29, x0: 69, ticks: timeTicks9,
  layout: [[532.7, 592.7], [620, 680.3], [707.3, 767.3], [794.7, 915]],
  modes: modes9, sa: sa9, saSpans: saSpans9, saTop: saSpanTop9, saDomain: [-2, 392],
  matches: matches9, mSpans: matchSpans9, mTop: matchSpanTop9, mDomain: [-1, 100.5],
  observer: observer9, imm: imm9, ekf: ekf9,
  rDomain: [-0.007, 1.173], rTicks: [0, 0.5, 1], rFormat: f1, rPad: 7,
  lab: [46, 28, 26, 31], xLabelY: 958
});
</script>
</body>
</html>
